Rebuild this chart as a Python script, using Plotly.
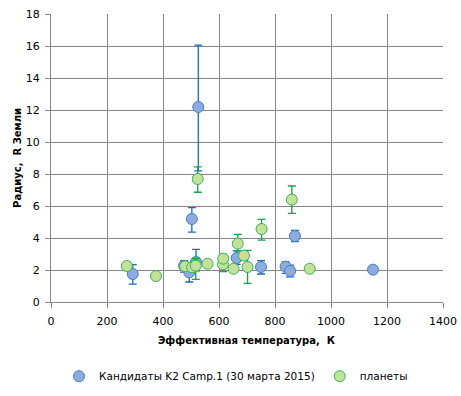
import plotly.graph_objects as go

# Candidates K2 Campaign 1
cand_t = [292, 475, 494, 503, 518, 526, 663, 750, 838, 854, 871, 1150]
cand_r = [1.75, 2.27, 1.85, 5.19, 2.50, 12.19, 2.75, 2.19, 2.21, 1.94, 4.12, 2.02]
cand_up = [0.58, 0.31, 0.35, 0.71, 0.79, 3.86, 0.44, 0.39, 0.29, 0.37, 0.36, 0.0]
cand_dn = [0.63, 0.40, 0.60, 0.82, 0.55, 4.00, 0.40, 0.44, 0.42, 0.37, 0.35, 0.0]

# Planets
pl_t = [271, 375, 479, 504, 517, 524, 559, 614, 615, 652, 667, 689, 702, 752, 860, 924]
pl_r = [2.25, 1.62, 2.23, 2.17, 2.27, 7.69, 2.39, 2.35, 2.71, 2.08, 3.65, 2.90, 2.19, 4.56, 6.40, 2.08]
pl_up = [0.0, 0.0, 0.15, 0.15, 0.45, 0.75, 0.0, 0.20, 0.27, 0.0, 0.58, 0.30, 1.04, 0.61, 0.85, 0.0]
pl_dn = [0.0, 0.0, 0.15, 0.15, 0.85, 0.83, 0.0, 0.45, 0.30, 0.0, 0.45, 0.30, 1.02, 0.69, 0.86, 0.0]

x_ticks = [0, 200, 400, 600, 800, 1000, 1200, 1400]
y_ticks = [0, 2, 4, 6, 8, 10, 12, 14, 16, 18]

x_title = "Эффективная температура,  К"
y_title = "Радиус,  R Земли"

fig = go.Figure()
fig.add_trace(go.Scatter(
    x=cand_t, y=cand_r, mode="markers",
    name="Кандидаты K2 Camp.1 (30 марта 2015)",
    marker=dict(size=11, color="rgb(140,172,222)", line=dict(color="rgb(70,125,195)", width=1)),
    error_y=dict(type="data", symmetric=False, array=cand_up, arrayminus=cand_dn,
                 color="rgb(25,110,180)", thickness=1.3, width=4),
))
fig.add_trace(go.Scatter(
    x=pl_t, y=pl_r, mode="markers",
    name="планеты",
    marker=dict(size=11, color="rgb(194,226,152)", line=dict(color="rgb(60,175,95)", width=1)),
    error_y=dict(type="data", symmetric=False, array=pl_up, arrayminus=pl_dn,
                 color="rgb(20,160,80)", thickness=1.3, width=4),
))

axis_common = dict(
    showgrid=True, gridcolor="rgb(135,135,135)", gridwidth=1,
    showline=True, linecolor="rgb(135,135,135)", linewidth=1,
    ticks="outside", tickcolor="rgb(135,135,135)", ticklen=5,
    tickfont=dict(family="DejaVu Sans", size=11, color="black"),
    zeroline=False, automargin=False,
)
fig.update_xaxes(range=[0, 1400], tickvals=x_ticks, ticklabelstandoff=4, **axis_common)
fig.update_yaxes(range=[0, 18], tickvals=y_ticks, ticklabelstandoff=3, **axis_common)

fig.add_annotation(text="<b>" + x_title + "</b>", xref="paper", yref="paper",
                   x=0.5, y=-0.132, xanchor="center", yanchor="middle", showarrow=False,
                   font=dict(family="DejaVu Sans", size=10, color="black"))
fig.add_annotation(text="<b>" + y_title + "</b>", xref="paper", yref="paper",
                   x=-0.087, y=0.5, xanchor="center", yanchor="middle", showarrow=False,
                   textangle=-90, font=dict(family="DejaVu Sans", size=10, color="black"))

fig.update_layout(
    width=461, height=396,
    margin=dict(l=51, r=18, t=14, b=94, autoexpand=False),
    paper_bgcolor="white", plot_bgcolor="white",
    showlegend=True,
    legend=dict(orientation="h", x=0.472, xanchor="center",
                yref="container", y=0.05, yanchor="middle",
                font=dict(family="DejaVu Sans", size=10.5, color="black"),
                itemwidth=30, tracegroupgap=0),
)

fig.write_html("out.html", config={"displayModeBar": False},
               post_script="document.body.style.margin='0';document.body.style.padding='0';")
